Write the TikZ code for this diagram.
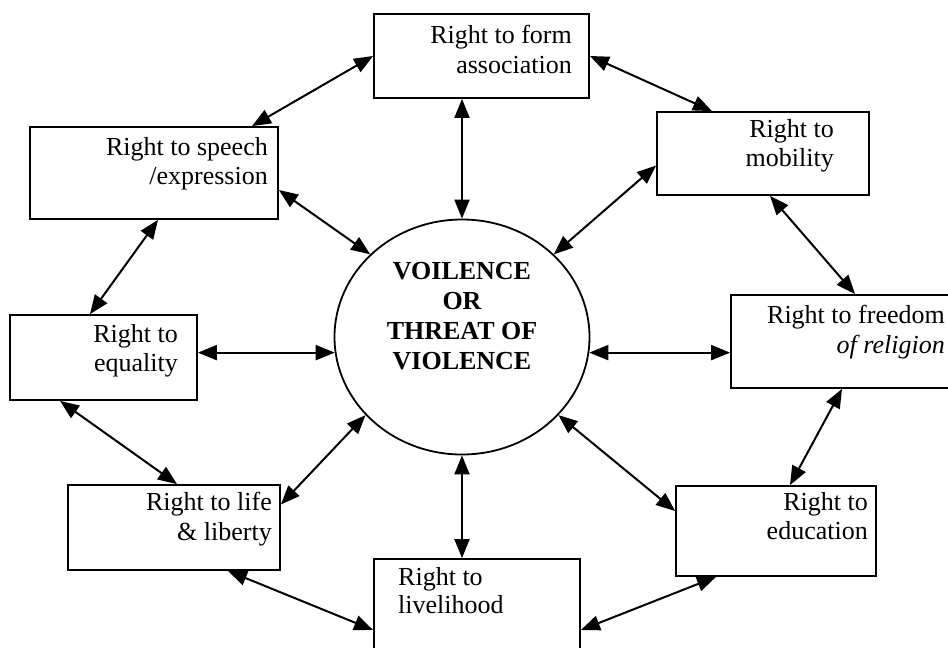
\documentclass[tikz,border=0pt]{standalone}
\usepackage{fontspec}
\setmainfont{Liberation Serif}
\usetikzlibrary{arrows.meta,shapes.geometric}
\begin{document}
\begin{tikzpicture}[x=1pt,y=-1pt,
  box/.style={draw,line width=1.8pt,inner sep=0pt},
  lbl/.style={font=\fontsize{26}{29.5}\selectfont,align=right,inner sep=0pt,anchor=north east},
  lbll/.style={font=\fontsize{26}{28}\selectfont,align=left,inner sep=0pt,anchor=north west},
  dbl/.style={line width=2pt,{Triangle[length=19pt,width=15pt]}-{Triangle[length=19pt,width=15pt]}}]
\useasboundingbox (0,0) rectangle (948,648);
\fill[white] (0,0) rectangle (948,648);
% boxes
\node[box,minimum width=215pt,minimum height=84pt] (form) at (481.5,56) {};
\node[box,minimum width=248pt,minimum height=92pt] (speech) at (154,173) {};
\node[box,minimum width=212pt,minimum height=83pt] (mob) at (763,153.5) {};
\node[box,minimum width=187pt,minimum height=85pt] (equ) at (103.5,357.5) {};
\node[box,minimum width=229pt,minimum height=93pt] (rel) at (845.5,341.5) {};
\node[box,minimum width=212pt,minimum height=85pt] (life) at (174,527.5) {};
\node[box,minimum width=206pt,minimum height=101pt] (liv) at (477,609.5) {};
\node[box,minimum width=200pt,minimum height=90pt] (edu) at (776,531) {};
\node[draw,ellipse,line width=1.8pt,minimum width=255pt,minimum height=235pt,inner sep=0pt] (ell) at (462,337) {};
% texts
\node[lbl] (formt) at (572,25) {Right to form\\association};
\node[lbl] (speecht) at (268,137) {Right to speech\\/expression};
\node[lbl] (mobt) at (834,119) {Right to\\mobility};
\node[lbl] (equt) at (178,324) {Right to\\equality};
\node[lbl] (relt) at (945,305) {Right to freedom\\\textit{of religion}};
\node[lbl] (lifet) at (272,492) {Right to life\\\& liberty};
\node[lbll] (livt) at (398,567) {Right to\\livelihood};
\node[lbl] (edut) at (868,492) {Right to\\education};
\node[font=\fontsize{26}{30}\selectfont\bfseries,align=center,inner sep=0pt,anchor=north] (ellt) at (462,262) {VOILENCE\\OR\\THREAT OF\\VIOLENCE};
% connectors
\draw[dbl] (form.west) -- ([xshift=98pt]speech.north);
\draw[dbl] (form.east) -- ([xshift=-51pt]mob.north);
\draw[dbl] ([xshift=-19.5pt]form.south) -- (ell.north);
\draw[dbl] ([yshift=-17pt]speech.east) -- (ell.138);
\draw[dbl] ([yshift=-12pt]mob.west) -- (ell.42);
\draw[dbl] ([xshift=7pt]mob.south) -- ([xshift=9.5pt]rel.north);
\draw[dbl] ([xshift=4pt]speech.south) -- ([xshift=-13.5pt]equ.north);
\draw[dbl] (ell.187 -| equ.east) -- (ell.187);
\draw[dbl] (ell.353) -- (ell.353 -| rel.west);
\draw[dbl] ([xshift=-43.5pt]equ.south) -- ([xshift=3pt]life.north);
\draw[dbl] (ell.219) -- ([yshift=23pt]life.east);
\draw[dbl] (ell.south) -- (ell.south |- liv.north);
\draw[dbl] (ell.321) -- ([yshift=20pt]edu.west);
\draw[dbl] ([xshift=-3.5pt]rel.south) -- ([xshift=14pt]edu.north);
\draw[dbl] ([xshift=54pt]life.south) -- ([yshift=-20.5pt]liv.west);
\draw[dbl] ([yshift=-20.5pt]liv.east) -- ([xshift=-60pt]edu.south);
\end{tikzpicture}
\end{document}
